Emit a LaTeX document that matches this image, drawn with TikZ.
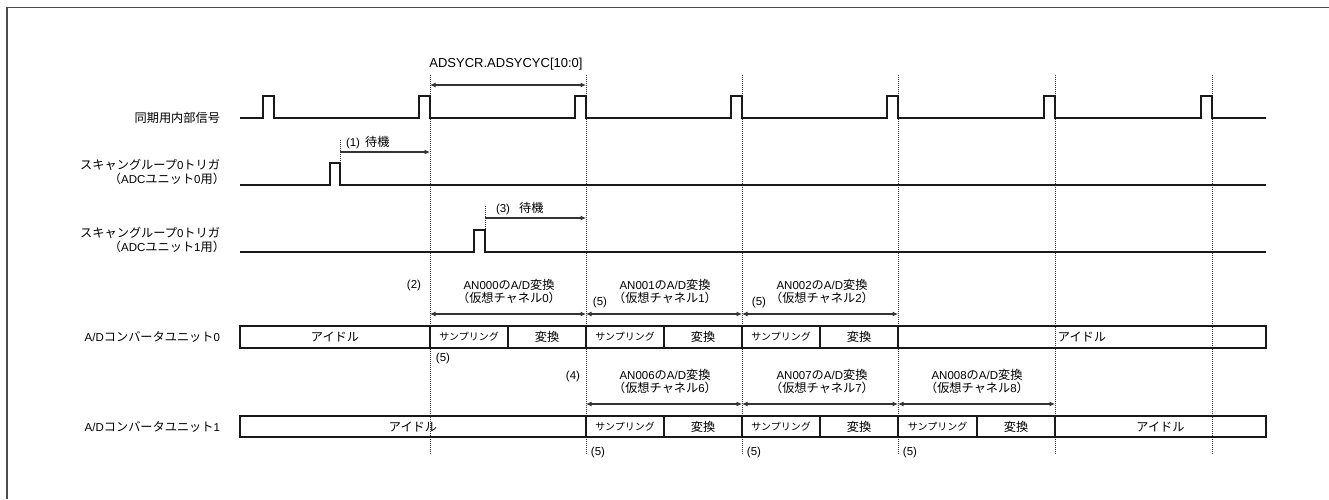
\documentclass[tikz,border=0pt]{standalone}
\usepackage{fontspec}
\setmainfont{Liberation Sans}
\newfontfamily\jpf[Scale=1.06]{Noto Sans CJK JP}
\newcommand\J[1]{{\jpf #1}}
\usetikzlibrary{arrows.meta}
\begin{document}
\begin{tikzpicture}[x=1pt,y=-1pt,
  lbl/.style={font=\fontsize{11.5}{14}\selectfont, inner sep=0pt, outer sep=0pt},
  two/.style={lbl, align=center, font=\fontsize{11.5}{13.5}\selectfont},
  rowlbl/.style={lbl, anchor=east, align=right, font=\fontsize{11.5}{14.5}\selectfont},
  wave/.style={line width=1.3pt, black!90, line join=miter},
  vdash/.style={line width=0.75pt, black!80, dash pattern=on 1pt off 1pt},
  dim/.style={{Latex[length=5.5pt,width=5pt]}-{Latex[length=5.5pt,width=5pt]}, line width=1.05pt, black!80},
  fwd/.style={-{Latex[length=5.5pt,width=5pt]}, line width=1.05pt, black!80},
  cell/.style={draw=black!90, line width=1.3pt, inner sep=0pt, outer sep=0pt, anchor=west,
    font=\fontsize{11.5}{14}\selectfont},
  samp/.style={cell, font=\fontsize{9.4}{12}\selectfont},
  frame/.style={line width=1.7pt, black!70}
]
\useasboundingbox (0,0) rectangle (1329,499);
\fill[white] (0,0) rectangle (1329,499);
% outer frame (only top and left edges visible)
\coordinate (fbl) at (7,499);
\coordinate (ftl) at (7,7.5);
\coordinate (ftr) at (1329,7.5);
\draw[frame] (fbl) -- (ftl) -- (ftr);

% timeline guides
\foreach \n/\x in {0/430,1/586,2/742,3/898,4/1055,5/1212}{
  \coordinate (t\n a) at (\x,75);
  \coordinate (t\n b) at (\x,455);
  \draw[vdash] (t\n a) -- (t\n b);
}

% row labels
\node[rowlbl] (lsync) at (220,118) {\J{同期用内部信号}};
\node[rowlbl] (ltrig0) at (220,172) {\J{スキャングループ}0\J{トリガ}\\\J{（}ADC\J{ユニット}0\J{用）}\kern-5pt};
\node[rowlbl] (ltrig1) at (220,240) {\J{スキャングループ}0\J{トリガ}\\\J{（}ADC\J{ユニット}1\J{用）}\kern-5pt};
\node[rowlbl] (lu0) at (220,337) {A/D\J{コンバータユニット}0};
\node[rowlbl] (lu1) at (220,427) {A/D\J{コンバータユニット}1};

% sync signal
\draw[wave] (240,118) foreach \t in {274,430,586,742,898,1055,1212}{
  -- (\t-11,118) -- (\t-11,96) -- (\t,96) -- (\t,118)} -- (1266,118);
% trigger 0
\draw[wave] (240,185) -- (330,185) -- (330,163) -- (340,163) -- (340,185) -- (1266,185);
% trigger 1
\draw[wave] (240,252) -- (474,252) -- (474,230) -- (485,230) -- (485,252) -- (1266,252);

% ADSYCYC period
\node[lbl, font=\fontsize{13}{15}\selectfont] (lcyc) at (506,64) {ADSYCR.ADSYCYC[10:0]};
\coordinate (cyca) at (430,85);
\coordinate (cycb) at (586,85);
\draw[dim] (cyca) -- (cycb);

% (1) wait
\coordinate (w1s) at (340,140);
\coordinate (w1e) at (340,163);
\coordinate (w1a) at (340,152);
\coordinate (w1b) at (430,152);
\draw[vdash] (w1s) -- (w1e);
\draw[fwd] (w1a) -- (w1b);
\node[lbl, anchor=west] (lw1) at (346,143) {(1)\hspace{5pt}\J{待機}};
% (3) wait
\coordinate (w3s) at (485,206);
\coordinate (w3e) at (485,230);
\coordinate (w3a) at (485,218);
\coordinate (w3b) at (586,218);
\draw[vdash] (w3s) -- (w3e);
\draw[fwd] (w3a) -- (w3b);
\node[lbl, anchor=west] (lw3) at (496,209) {(3)\hspace{9pt}\J{待機}};

% ---------- unit 0 ----------
\node[cell, minimum width=190pt, minimum height=22pt] (u0i) at (240,337) {\J{アイドル}};
\node[samp, minimum width=78pt, minimum height=22pt] (u0s0) at (430,337) {\J{サンプリング}};
\node[cell, minimum width=78pt, minimum height=22pt] (u0c0) at (508,337) {\J{変換}};
\node[samp, minimum width=78pt, minimum height=22pt] (u0s1) at (586,337) {\J{サンプリング}};
\node[cell, minimum width=78pt, minimum height=22pt] (u0c1) at (664,337) {\J{変換}};
\node[samp, minimum width=78pt, minimum height=22pt] (u0s2) at (742,337) {\J{サンプリング}};
\node[cell, minimum width=78pt, minimum height=22pt] (u0c2) at (820,337) {\J{変換}};
\node[cell, minimum width=368pt, minimum height=22pt] (u0j) at (898,337) {\J{アイドル}};

\coordinate (a00) at (430,314);
\coordinate (a01) at (586,314);
\coordinate (a02) at (742,314);
\coordinate (a03) at (898,314);
\draw[dim] (a00) -- (a01);
\draw[dim] (a01) -- (a02);
\draw[dim] (a02) -- (a03);

\node[two] (n0) at (509,291.5) {AN000\J{の}A/D\J{変換}\\\J{（仮想チャネル}0\J{）}};
\node[two] (n1) at (665,291.5) {AN001\J{の}A/D\J{変換}\\\J{（仮想チャネル}1\J{）}};
\node[two] (n2) at (822,291.5) {AN002\J{の}A/D\J{変換}\\\J{（仮想チャネル}2\J{）}};
\node[lbl] (m2) at (414,286) {(2)};
\node[lbl] (m5a) at (600,303) {(5)};
\node[lbl] (m5b) at (759,303) {(5)};
\node[lbl] (m5c) at (443,359) {(5)};

% ---------- unit 1 ----------
\node[cell, minimum width=346pt, minimum height=21pt] (u1i) at (240,426.5) {\J{アイドル}};
\node[samp, minimum width=78pt, minimum height=21pt] (u1s0) at (586,426.5) {\J{サンプリング}};
\node[cell, minimum width=78pt, minimum height=21pt] (u1c0) at (664,426.5) {\J{変換}};
\node[samp, minimum width=78pt, minimum height=21pt] (u1s1) at (742,426.5) {\J{サンプリング}};
\node[cell, minimum width=78pt, minimum height=21pt] (u1c1) at (820,426.5) {\J{変換}};
\node[samp, minimum width=79pt, minimum height=21pt] (u1s2) at (898,426.5) {\J{サンプリング}};
\node[cell, minimum width=78pt, minimum height=21pt] (u1c2) at (977,426.5) {\J{変換}};
\node[cell, minimum width=211pt, minimum height=21pt] (u1j) at (1055,426.5) {\J{アイドル}};

\coordinate (a10) at (586,404);
\coordinate (a11) at (742,404);
\coordinate (a12) at (898,404);
\coordinate (a13) at (1055,404);
\draw[dim] (a10) -- (a11);
\draw[dim] (a11) -- (a12);
\draw[dim] (a12) -- (a13);

\node[two] (n6) at (665,381.5) {AN006\J{の}A/D\J{変換}\\\J{（仮想チャネル}6\J{）}};
\node[two] (n7) at (822,381.5) {AN007\J{の}A/D\J{変換}\\\J{（仮想チャネル}7\J{）}};
\node[two] (n8) at (977,381.5) {AN008\J{の}A/D\J{変換}\\\J{（仮想チャネル}8\J{）}};
\node[lbl] (m4) at (573,377) {(4)};
\node[lbl] (m5d) at (598,453) {(5)};
\node[lbl] (m5e) at (754,453) {(5)};
\node[lbl] (m5f) at (910,453) {(5)};
\end{tikzpicture}
\end{document}
